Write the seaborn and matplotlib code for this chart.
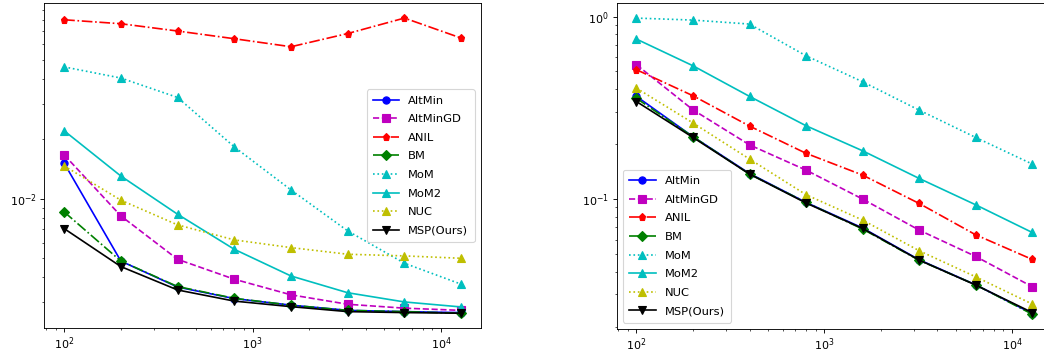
import matplotlib
matplotlib.use("Agg")
import matplotlib.pyplot as plt
import seaborn as sns
import numpy as np

x_vals = [100, 200, 400, 800, 1600, 3200, 6400, 12800]
methods = ["AltMin", "AltMinGD", "ANIL", "BM", "MoM", "MoM2", "NUC", "MSP(Ours)"]

# Left panel
left_altmin = [0.0151, 0.00484, 0.00358, 0.00313, 0.00290, 0.00273, 0.00269, 0.00266]
left_altmingd = [0.01663, 0.00818, 0.00494, 0.00392, 0.00327, 0.00293, 0.00280, 0.00273]
left_anil = [0.0799, 0.0763, 0.0701, 0.0641, 0.0584, 0.0681, 0.0815, 0.0646]
left_bm = [0.00857, 0.00484, 0.00360, 0.00314, 0.00290, 0.00273, 0.00269, 0.00264]
left_mom = [0.0462, 0.0406, 0.0324, 0.01824, 0.01106, 0.00687, 0.00472, 0.0037]
left_mom2 = [0.0220, 0.0130, 0.00834, 0.00555, 0.00407, 0.00335, 0.00301, 0.00284]
left_nuc = [0.01463, 0.00982, 0.00737, 0.00619, 0.00566, 0.00524, 0.00514, 0.0050]
left_msp = [0.00706, 0.00454, 0.00346, 0.00304, 0.00285, 0.00269, 0.00266, 0.00264]

# Right panel
right_altmin = [0.365, 0.2195, 0.138, 0.0958, 0.0694, 0.0465, 0.0339, 0.0236]
right_altmingd = [0.544, 0.308, 0.198, 0.144, 0.100, 0.0676, 0.0485, 0.0331]
right_anil = [0.511, 0.368, 0.251, 0.178, 0.1353, 0.0946, 0.0637, 0.0467]
right_bm = [0.356, 0.2195, 0.137, 0.0958, 0.0685, 0.0462, 0.0339, 0.0234]
right_mom = [0.980, 0.956, 0.909, 0.609, 0.439, 0.307, 0.2175, 0.1555]
right_mom2 = [0.752, 0.537, 0.365, 0.252, 0.1838, 0.1297, 0.0930, 0.0656]
right_nuc = [0.405, 0.261, 0.1656, 0.1056, 0.0767, 0.0521, 0.0375, 0.0266]
right_msp = [0.342, 0.2175, 0.137, 0.0951, 0.0690, 0.0463, 0.0338, 0.0239]

styles = {
    "AltMin": dict(color="b", linestyle="-", marker="o"),
    "AltMinGD": dict(color="m", linestyle="--", marker="s"),
    "ANIL": dict(color="r", linestyle="-.", marker="p"),
    "BM": dict(color="g", linestyle="-.", marker="D"),
    "MoM": dict(color="c", linestyle=":", marker="^"),
    "MoM2": dict(color="c", linestyle="-", marker="^"),
    "NUC": dict(color="y", linestyle=":", marker="^"),
    "MSP(Ours)": dict(color="k", linestyle="-", marker="v"),
}

left_data = [left_altmin, left_altmingd, left_anil, left_bm, left_mom, left_mom2, left_nuc, left_msp]
right_data = [right_altmin, right_altmingd, right_anil, right_bm, right_mom, right_mom2, right_nuc, right_msp]

dpi = 80
fig = plt.figure(figsize=(1044 / dpi, 353 / dpi), dpi=dpi)
ax1 = fig.add_axes([44.3 / 1044, 25 / 353, (481 - 44.3) / 1044, (328 - 3.3) / 353])
ax2 = fig.add_axes([616.7 / 1044, 24 / 353, (1052 - 616.7) / 1044, (329 - 3.3) / 353])

for ax, data, loc in [(ax1, left_data, "center right"), (ax2, right_data, "lower left")]:
    for name, vals in zip(methods, data):
        st = styles[name]
        sns.lineplot(x=x_vals, y=vals, ax=ax, label=name, color=st["color"],
                     linestyle=st["linestyle"], marker=st["marker"], markersize=6.5,
                     markeredgecolor=st["color"], markeredgewidth=1, linewidth=1.5,
                     legend=False)
    ax.set_xscale("log")
    ax.set_yscale("log")
    ax.legend(loc=loc, handlelength=2.3, labelspacing=0.75, borderpad=0.55,
              borderaxespad=0.55, fontsize=10.3)

fig.savefig("out.png", dpi=dpi)
